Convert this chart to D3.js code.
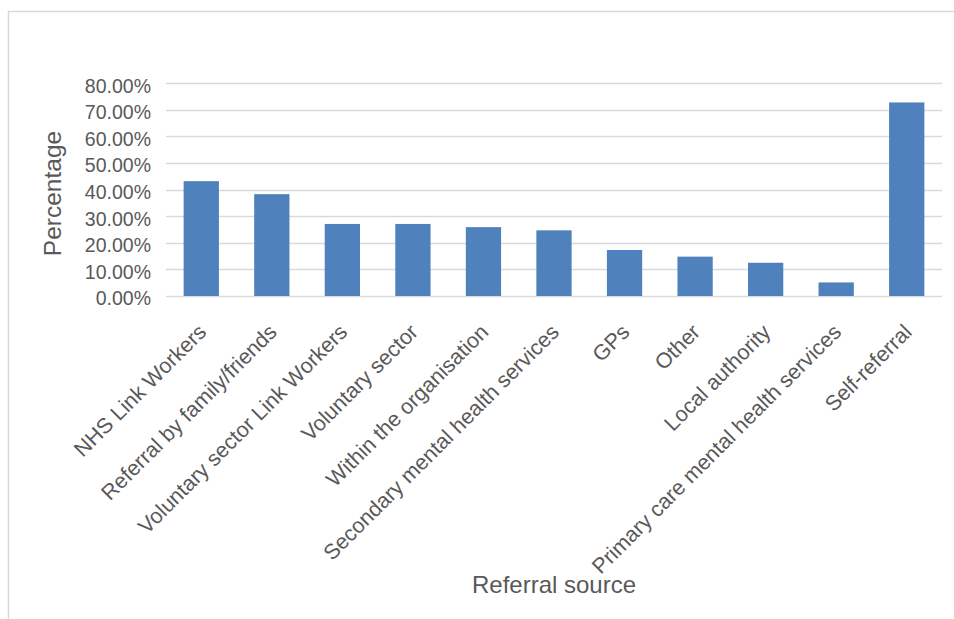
<!DOCTYPE html>
<html>
<head>
<meta charset="utf-8">
<script src="https://cdn.jsdelivr.net/npm/d3@7"></script>
<style>
  html, body { margin: 0; padding: 0; background: #fff; }
  svg { display: block; }
  text { font-family: "Liberation Sans", Arial, sans-serif; fill: #595959; }
</style>
</head>
<body>
<svg id="chart" width="954" height="619"></svg>
<script>
const categories = [
  "NHS Link Workers",
  "Referral by family/friends",
  "Voluntary sector Link Workers",
  "Voluntary sector",
  "Within the organisation",
  "Secondary mental health services",
  "GPs",
  "Other",
  "Local authority",
  "Primary care mental health services",
  "Self-referral"
];
const values = [0.432, 0.383, 0.271, 0.271, 0.259, 0.247, 0.173, 0.148, 0.125, 0.051, 0.728];
const yTicks = [0, 0.1, 0.2, 0.3, 0.4, 0.5, 0.6, 0.7, 0.8];
const xTitle = "Referral source";
const yTitle = "Percentage";

const svg = d3.select("#chart");

// chart frame (light border on top and left)
svg.append("rect")
  .attr("x", 8.5).attr("y", 11.5)
  .attr("width", 1000).attr("height", 700)
  .attr("fill", "none").attr("stroke", "#d9d9d9").attr("stroke-width", 1.5);

const plot = { left: 166, right: 942, top: 83.3, bottom: 296 };

const x = d3.scaleBand()
  .domain(categories)
  .range([plot.left, plot.right])
  .paddingInner(0.5)
  .paddingOuter(0.25);

const y = d3.scaleLinear()
  .domain([0, 0.8])
  .range([plot.bottom, plot.top]);

// gridlines
svg.append("g")
  .selectAll("line")
  .data(yTicks)
  .join("line")
  .attr("x1", plot.left).attr("x2", plot.right)
  .attr("y1", d => Math.round(y(d)) + 0.5).attr("y2", d => Math.round(y(d)) + 0.5)
  .attr("stroke", "#d9d9d9").attr("stroke-width", 1.5);

// y-axis tick labels
const yAxis = d3.axisLeft(y)
  .tickValues(yTicks)
  .tickFormat(d3.format(".2%"))
  .tickSize(0)
  .tickPadding(15);
const gy = svg.append("g")
  .attr("transform", `translate(${plot.left},0)`)
  .call(yAxis);
gy.select(".domain").remove();
gy.selectAll("text")
  .attr("font-size", "19.5px")
  .attr("fill", "#595959")
  .attr("dy", "0.45em")
  .style("font-family", '"Liberation Sans", Arial, sans-serif');

// bars
svg.append("g")
  .selectAll("rect")
  .data(values)
  .join("rect")
  .attr("x", (d, i) => x(categories[i]))
  .attr("width", x.bandwidth())
  .attr("y", d => y(d))
  .attr("height", d => y(0) - y(d))
  .attr("fill", "#4f81bd");

// x-axis category labels
const xAxis = d3.axisBottom(x).tickSize(0).tickPadding(0);
const gx = svg.append("g")
  .attr("transform", `translate(0,${plot.bottom})`)
  .call(xAxis);
gx.select(".domain").remove();
gx.selectAll(".tick text")
  .attr("font-size", "21.5px")
  .attr("fill", "#595959")
  .attr("text-anchor", "end")
  .attr("x", 0).attr("y", 0)
  .attr("dy", "0.35em")
  .attr("transform", "translate(1,32) rotate(-45)")
  .style("font-family", '"Liberation Sans", Arial, sans-serif');

// axis titles
svg.append("text")
  .attr("x", 554).attr("y", 593)
  .attr("text-anchor", "middle")
  .attr("font-size", "24px")
  .text(xTitle);

svg.append("text")
  .attr("transform", "translate(61,193.5) rotate(-90)")
  .attr("text-anchor", "middle")
  .attr("font-size", "24.5px")
  .text(yTitle);
</script>
</body>
</html>
